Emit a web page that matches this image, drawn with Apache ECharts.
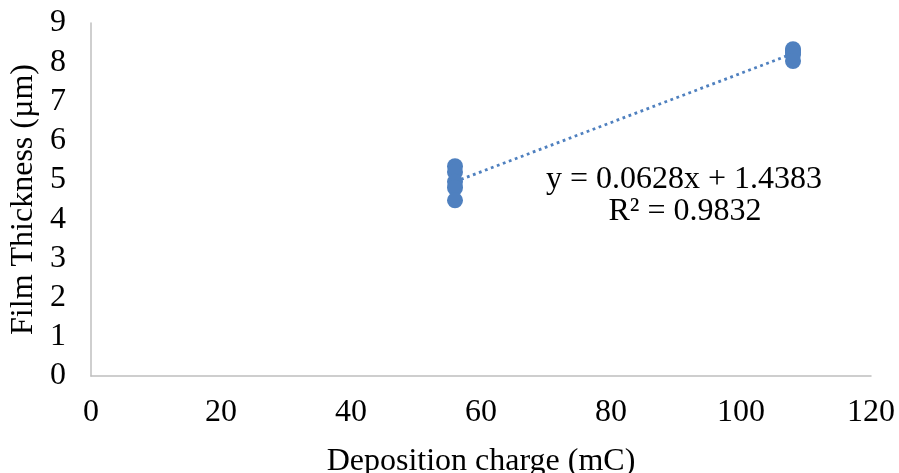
<!DOCTYPE html>
<html>
<head>
<meta charset="utf-8">
<script src="https://cdn.jsdelivr.net/npm/echarts@6/dist/echarts.min.js"></script>
<style>html,body{margin:0;padding:0;background:#fff}#c{width:899px;height:473px}</style>
</head>
<body>
<div id="c"></div>
<script>
// Data
const xValues = [56, 56, 56, 56, 56, 108, 108, 108, 108, 108];
const yValues = [5.35, 5.2, 4.95, 4.8, 4.48, 8.33, 8.3, 8.25, 8.2, 8.03];
const trendSlope = 0.0628;
const trendIntercept = 1.4383;
const equationText = 'y = 0.0628x + 1.4383';
const r2Text = 'R² = 0.9832';
const xTitle = 'Deposition charge (mC)';
const yTitle = 'Film Thickness (µm)';

const points = xValues.map((x, i) => [x, yValues[i]]);
const xMin = Math.min(...xValues), xMax = Math.max(...xValues);
const trend = [[xMin, trendSlope * xMin + trendIntercept], [xMax, trendSlope * xMax + trendIntercept]];

const font = '"Liberation Serif", "Times New Roman", serif';
const fs = 32;
const color = '#4f80bf';
const chart = echarts.init(document.getElementById('c'), null, {renderer: 'canvas'});
chart.setOption({
  animation: false,
  backgroundColor: '#fff',
  grid: {left: 91, right: 28, top: 23, bottom: 97, containLabel: false, outerBoundsMode: 'none'},
  xAxis: {
    type: 'value', min: 0, max: 120, interval: 20,
    name: xTitle, nameLocation: 'middle', nameGap: 70,
    nameTextStyle: {fontFamily: font, fontSize: fs, color: '#000'},
    axisLine: {show: true, lineStyle: {color: '#bfbfbf', width: 1.5}},
    axisTick: {show: false},
    splitLine: {show: false},
    axisLabel: {fontFamily: font, fontSize: fs, color: '#000', margin: 21}
  },
  yAxis: {
    type: 'value', min: 0, max: 9, interval: 1,
    name: yTitle, nameLocation: 'middle', nameGap: 49,
    nameTextStyle: {fontFamily: font, fontSize: fs, color: '#000'},
    axisLine: {show: true, lineStyle: {color: '#bfbfbf', width: 1.5}},
    axisTick: {show: false},
    splitLine: {show: false},
    axisLabel: {fontFamily: font, fontSize: fs, color: '#000', margin: 25}
  },
  series: [
    {
      type: 'line', data: trend, showSymbol: false, symbol: 'none',
      lineStyle: {color: color, width: 2.8, type: [2.8, 3.6]}, z: 1
    },
    {
      type: 'scatter', data: points, symbol: 'circle', symbolSize: 16,
      itemStyle: {color: color, opacity: 1}, z: 2
    }
  ],
  graphic: [
    {type: 'text', x: 684, y: 180, style: {text: equationText, font: fs + 'px ' + font, fill: '#000', textAlign: 'center', textVerticalAlign: 'middle'}},
    {type: 'text', x: 685, y: 212, style: {text: r2Text, font: fs + 'px ' + font, fill: '#000', textAlign: 'center', textVerticalAlign: 'middle'}}
  ]
});
</script>
</body>
</html>
